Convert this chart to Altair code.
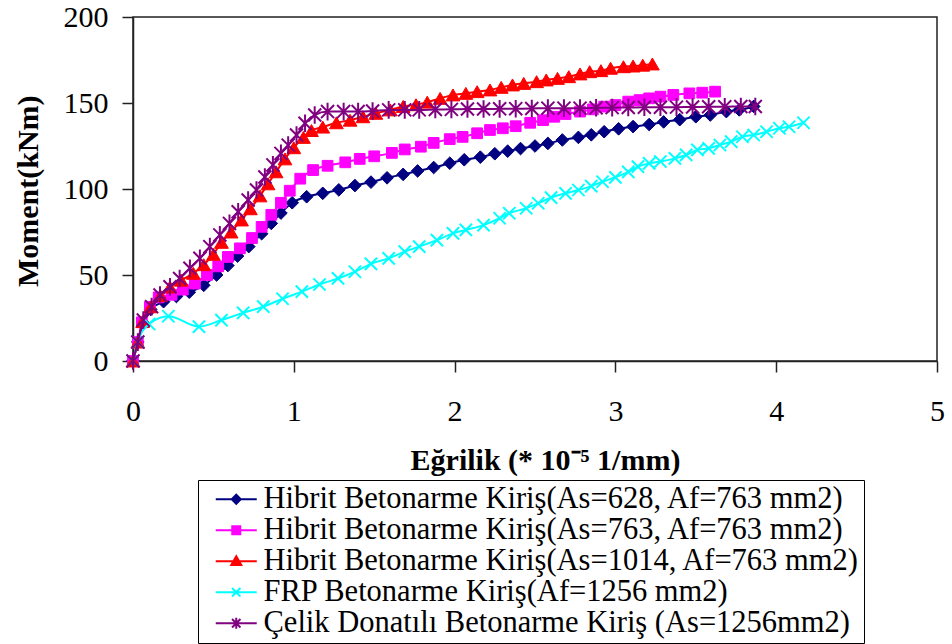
import altair as alt
import pandas as pd

names = [
    "Hibrit Betonarme Kiriş(As=628, Af=763 mm2)",
    "Hibrit Betonarme Kiriş(As=763, Af=763 mm2)",
    "Hibrit Betonarme Kiriş(As=1014, Af=763 mm2)",
    "FRP Betonarme Kiriş(Af=1256 mm2)",
    "Çelik Donatılı Betonarme Kiriş (As=1256mm2)",
]
colors = ["#000080", "#FF00FF", "#FF0000", "#00FFFF", "#800080"]

x1 = [0, 0.03, 0.065, 0.11, 0.19, 0.27, 0.35, 0.44, 0.52, 0.59, 0.65, 0.72, 0.80, 0.86, 0.92, 0.99,
      1.08, 1.18, 1.28, 1.38, 1.48, 1.58, 1.68, 1.77, 1.87, 1.97, 2.06, 2.16, 2.25, 2.33, 2.41, 2.50,
      2.58, 2.67, 2.77, 2.85, 2.93, 3.02, 3.11, 3.21, 3.30, 3.40, 3.50, 3.59, 3.69, 3.77, 3.86]
y1 = [0, 11, 22, 30, 34.5, 37.5, 40, 44, 50, 55.5, 61, 66.5, 74, 80, 86, 92,
      95.5, 97.5, 99.5, 102, 104, 106.5, 108.5, 110.5, 112.5, 115, 117, 118.5, 120.5, 122, 123.5, 125,
      126.5, 128.5, 130, 131.5, 133.3, 135, 136.3, 137.5, 139, 140.3, 142, 143, 145, 146, 148]

x2 = [0, 0.03, 0.055, 0.105, 0.16, 0.24, 0.31, 0.385, 0.46, 0.53, 0.59, 0.665, 0.74, 0.80, 0.86, 0.92,
      0.975, 1.04, 1.12, 1.21, 1.32, 1.41, 1.50, 1.61, 1.69, 1.79, 1.87, 1.97, 2.05, 2.14, 2.22, 2.30,
      2.38, 2.47, 2.55, 2.62, 2.69, 2.78, 2.86, 2.93, 3.00, 3.08, 3.15, 3.21, 3.28, 3.36, 3.46, 3.54, 3.62]
y2 = [0, 11, 22.5, 31.5, 37, 38.5, 41.5, 45, 50, 55, 60.5, 65.5, 71.5, 78, 85, 92,
      99, 106, 111, 113.5, 115.5, 117.5, 119, 121, 123, 124.6, 126.8, 129, 130.3, 132.4, 134.3, 135.3,
      136.5, 138.5, 140, 142, 143.6, 145, 146.3, 147.9, 148.8, 150.8, 151.7, 152.7, 153.7, 154.7, 155.6, 156, 156.6]

x3 = [0, 0.03, 0.06, 0.11, 0.17, 0.23, 0.30, 0.375, 0.44, 0.50, 0.55, 0.61, 0.675, 0.73, 0.79, 0.84,
      0.89, 0.945, 1.0, 1.06, 1.11, 1.18, 1.265, 1.35, 1.43, 1.51, 1.60, 1.68, 1.76, 1.83, 1.91, 1.99,
      2.07, 2.14, 2.22, 2.29, 2.36, 2.43, 2.51, 2.57, 2.64, 2.71, 2.78, 2.84, 2.91, 2.97, 3.05, 3.11, 3.17, 3.23]
y3 = [0, 11, 23, 31.5, 38, 43, 47, 51, 56, 62, 69, 75, 82, 88.5, 96, 103,
      110, 117.5, 124, 130, 134, 136, 138.5, 140, 142, 144, 146, 148, 149, 150.5, 152.7, 154.7,
      155.6, 156.6, 157.6, 159.1, 160.5, 161.4, 162.4, 163.4, 164.3, 165.3, 166.9, 168.2, 168.8, 170.2, 171.1, 171.5, 172, 172.7]

x4 = [0, 0.03, 0.1, 0.22, 0.41, 0.55, 0.685, 0.81, 0.93, 1.05, 1.16, 1.275, 1.38, 1.48, 1.59, 1.69,
      1.78, 1.89, 1.99, 2.07, 2.18, 2.28, 2.34, 2.445, 2.52, 2.60, 2.69, 2.77, 2.85, 2.92, 3.0, 3.08,
      3.14, 3.21, 3.28, 3.37, 3.44, 3.51, 3.58, 3.65, 3.72, 3.79, 3.86, 3.94, 4.02, 4.08, 4.17]
y4 = [0, 11, 21.5, 26, 20, 23.8, 28, 31.6, 36.2, 40.3, 44.5, 48, 51.9, 56.5, 59.7, 63.6,
      66.5, 70.3, 74.2, 76.2, 79, 83, 85.9, 88.8, 91.7, 95, 97.5, 99.4, 101.7, 104.2, 106.8, 110,
      113, 114.9, 116, 117.8, 119.8, 122.7, 123.6, 125.6, 127.5, 130.4, 131.4, 133.3, 135.3, 136.2, 138.5]

x5 = [0, 0.03, 0.064, 0.116, 0.168, 0.23, 0.29, 0.354, 0.416, 0.478, 0.54, 0.60, 0.654, 0.716, 0.768, 0.82,
      0.87, 0.92, 0.965, 1.017, 1.07, 1.13, 1.21, 1.31, 1.40, 1.49, 1.59, 1.69, 1.78, 1.88, 1.98, 2.08,
      2.18, 2.28, 2.38, 2.48, 2.58, 2.68, 2.78, 2.88, 2.98, 3.08, 3.18, 3.28, 3.38, 3.48, 3.58, 3.68, 3.78, 3.87]
y5 = [0, 11, 23.8, 31.6, 38.4, 43.2, 48, 53.9, 59.7, 66.5, 73.3, 80, 86.8, 93.6, 99.4, 107,
      114, 120.7, 125.5, 131.4, 138.2, 143, 145, 145, 145, 145.3, 146, 146, 146, 146.2, 146.3, 146.5,
      146.5, 146.6, 146.7, 146.8, 147, 147, 147, 147.2, 147.3, 147.4, 147.5, 147.5, 147.6, 147.7, 147.8, 147.8, 148, 148]

x_ticks = [0, 1, 2, 3, 4, 5]
y_ticks = [0, 50, 100, 150, 200]

X_PATH = "M-1,-1L1,1M-1,1L1,-1"
AST_PATH = "M-1,-1L1,1M-1,1L1,-1M0,-1.35L0,1.35"
shapes = ["diamond", "square", "triangle-up", X_PATH, AST_PATH]
sizes = [160, 115, 190, 150, 170]
marker_stroke = [1, 1, 1, 2, 2]

# legend glyphs: a line segment with the series marker in its middle
legend_paths = [
    "M-2.05,0H2.05M0,-0.45L0.45,0L0,0.45L-0.45,0Z",
    "M-2.05,0H2.05M-0.4,-0.4H0.4V0.4H-0.4Z",
    "M-2.05,0H2.05M0,-0.5L0.5,0.38L-0.5,0.38Z",
    "M-2.05,0H2.05M-0.42,-0.42L0.42,0.42M-0.42,0.42L0.42,-0.42",
    "M-2.05,0H2.05M-0.42,-0.42L0.42,0.42M-0.42,0.42L0.42,-0.42M0,-0.55V0.55",
]

rows = []
for name, xs, ys in zip(names, [x1, x2, x3, x4, x5], [y1, y2, y3, y4, y5]):
    for xv, yv in zip(xs, ys):
        rows.append({"series": name, "x": xv, "y": yv})
df = pd.DataFrame(rows)

FONT = "Liberation Serif"

leg = alt.Legend(
    title=None,
    orient="none",
    legendX=65,
    legendY=463,
    symbolSize=400,
    symbolStrokeWidth=2,
    symbolOffset=19,
    labelOffset=12,
    padding=4,
    rowPadding=0,
    labelFont=FONT,
    labelFontSize=30.5,
    labelColor="black",
    labelLimit=0,
    strokeColor="black",
    fillColor="white",
    symbolOpacity=1,
)

xenc = alt.X(
    "x:Q",
    scale=alt.Scale(domain=[0, 5], nice=False, zero=False),
    axis=alt.Axis(
        values=x_ticks,
        title="Eğrilik (* 10⁻⁵  1/mm)",
        labelPadding=24,
        labelFlush=False,
        titleX=412,
        titleY=108.5,
        titleBaseline="alphabetic",
        titleAlign="center",
    ),
)
yenc = alt.Y(
    "y:Q",
    scale=alt.Scale(domain=[0, 200], nice=False),
    axis=alt.Axis(
        values=y_ticks,
        title="Moment(kNm)",
        labelPadding=14,
        labelFlush=False,
        titleX=-95.5,
        titleY=173.7,
        titleAngle=-90,
        titleBaseline="alphabetic",
        titleAlign="center",
    ),
)

base = alt.Chart(df)

# legend-only layer: no rows survive the filter; its scales drive the single legend
legend_layer = base.transform_filter("false").mark_point(filled=True, opacity=1).encode(
    x=xenc,
    y=yenc,
    color=alt.Color("series:N", scale=alt.Scale(domain=names, range=colors), legend=leg),
    stroke=alt.Stroke("series:N", scale=alt.Scale(domain=names, range=colors), legend=leg),
    shape=alt.Shape("series:N", scale=alt.Scale(domain=names, range=legend_paths), legend=leg),
)

layers = [legend_layer]
for name, col, shp, sz, sw in zip(names, colors, shapes, sizes, marker_stroke):
    sub = base.transform_filter(alt.datum.series == name)
    layers.append(
        sub.mark_line(color=col, strokeWidth=2, interpolate="monotone").encode(x=xenc, y=yenc)
    )
    layers.append(
        sub.mark_point(
            shape=shp, size=sz, filled=True, fill=col, stroke=col, strokeWidth=sw, opacity=1
        ).encode(x=xenc, y=yenc)
    )

chart = (
    alt.layer(*layers)
    .properties(
        width=804,
        height=344,
        autosize=alt.AutoSizeParams(type="none"),
        padding={"left": 133, "top": 17, "right": 15, "bottom": 283},
        background="white",
    )
    .configure_view(stroke="#222222", strokeWidth=1.5)
    .configure_axis(
        grid=False,
        domainColor="#222222",
        domainWidth=1.5,
        tickColor="#222222",
        tickWidth=1.5,
        tickSize=11,
        labelFont=FONT,
        labelFontSize=30,
        labelColor="black",
        titleFont=FONT,
        titleFontSize=30,
        titleFontWeight="bold",
        titleColor="black",
    )
)

chart.save("out.html", embed_options={"renderer": "svg", "actions": False})
